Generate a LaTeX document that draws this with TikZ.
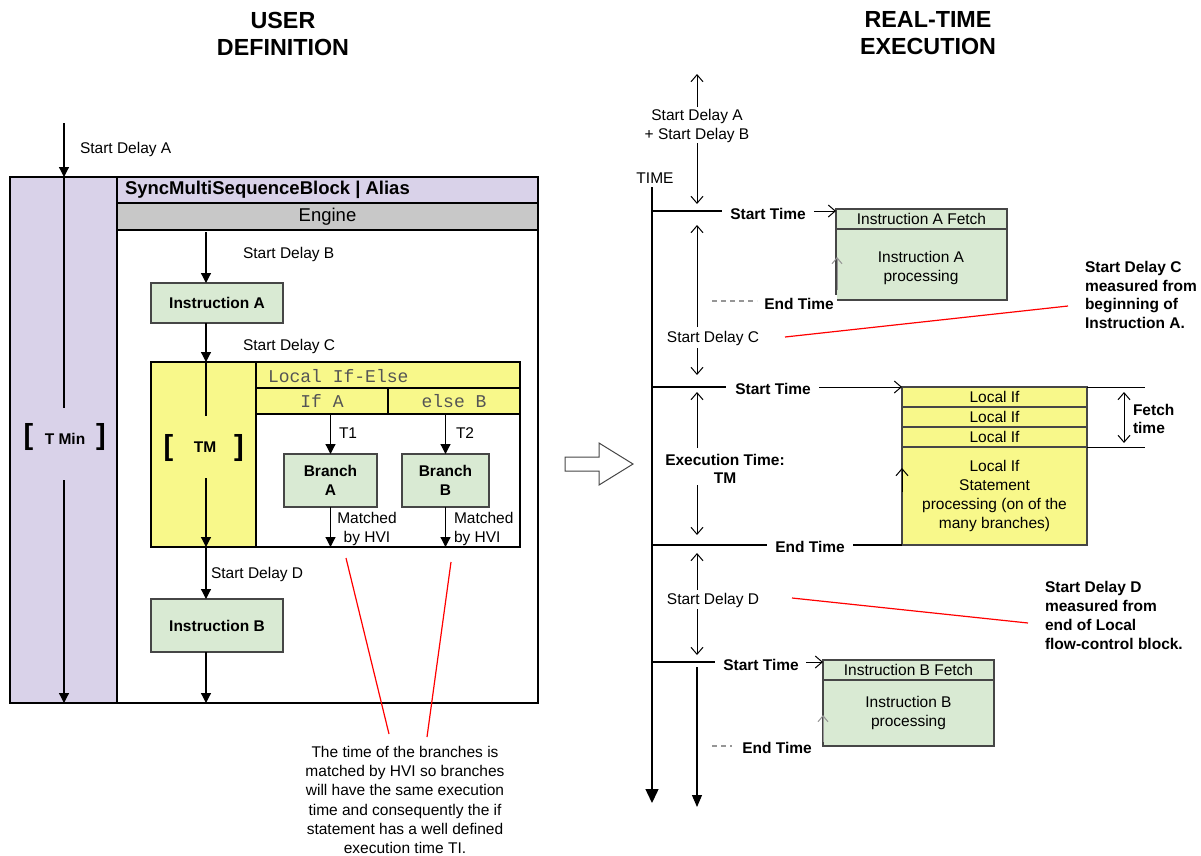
\documentclass[tikz,border=0pt]{standalone}
\usepackage{fontspec}
\setmainfont{Liberation Sans}
\newfontfamily\monofnt{Liberation Mono}
\usetikzlibrary{arrows.meta}
\definecolor{purp}{RGB}{217,210,233}
\definecolor{engc}{RGB}{200,200,200}
\definecolor{grn}{RGB}{217,234,211}
\definecolor{yel}{RGB}{248,248,138}
\definecolor{edge}{RGB}{70,70,70}
\definecolor{monoc}{RGB}{85,85,85}
\definecolor{dashc}{RGB}{150,150,150}
\begin{document}
\begin{tikzpicture}[x=1pt,y=-1pt,
  every node/.style={inner sep=0pt, outer sep=0pt},
  lbl/.style={font=\fontsize{15.5}{18.5}\selectfont, align=center},
  blbl/.style={font=\fontsize{15.5}{18.5}\selectfont\bfseries, align=center},
  ttl/.style={font=\fontsize{23.3}{27}\selectfont\bfseries, align=center},
  brk/.style={font=\fontsize{29}{30}\selectfont\bfseries},
  mfont/.style={font=\monofnt\fontsize{18}{20}\selectfont, text=monoc},
  boxg/.style={draw=edge, line width=1.3pt, fill=grn, anchor=north west},
  ycell/.style={draw=black, line width=1.3pt, fill=yel, anchor=north west},
  ln/.style={line width=1.2pt},
  farr/.style={line width=1.2pt, -{Triangle[length=10pt,width=10pt]}},
  axarr/.style={line width=1.4pt, -{Triangle[length=14pt,width=13pt]}},
  ax2arr/.style={line width=1.2pt, -{Triangle[length=12pt,width=10pt]}},
  oarr/.style={line width=1pt, -{Straight Barb[length=7pt,width=12pt]}},
  garr/.style={line width=1pt, dashc, -{Straight Barb[length=6pt,width=10pt]}},
  dsh/.style={line width=1.2pt, dashc, dash pattern=on 5pt off 4pt},
  redl/.style={line width=1.2pt, red}
]
\useasboundingbox (0,0) rectangle (1201,855);

% ================= LEFT: USER DEFINITION =================
\node[ttl] (ttl1) at (283,33.5) {USER\\DEFINITION};

\node[fill=purp, minimum width=107pt, minimum height=526pt, anchor=north west] (tcol) at (10,177) {};
\node[draw=black, fill=purp, line width=1.3pt, minimum width=421pt, minimum height=26pt, anchor=north west] (hdr) at (117,177) {};
\node[font=\fontsize{18.5}{20}\selectfont\bfseries, anchor=west] (hdrt) at (125,190) {SyncMultiSequenceBlock | Alias};
\node[draw=black, fill=engc, line width=1.3pt, minimum width=421pt, minimum height=27pt, anchor=north west, font=\fontsize{18.5}{20}\selectfont] (eng) at (117,203) {Engine};
\node[draw=black, line width=1.5pt, minimum width=528pt, minimum height=526pt, anchor=north west] (outer) at (10,177) {};
\draw[line width=1.3pt] (tcol.north east) -- (tcol.south east);

% T Min column
\coordinate (sdaS) at (64,123);
\coordinate (tminA) at (64,408);
\coordinate (tminB) at (64,480);
\node[lbl, anchor=west] (sda) at (80,149) {Start Delay A};
\draw[farr] (sdaS) -- (sdaS |- outer.north);
\draw[ln] (sdaS |- outer.north) -- (tminA);
\node[blbl] (tmin) at (65,439) {T Min};
\node[brk] (tminL) at (28.5,437) {[};
\node[brk] (tminR) at (101,437) {]};
\draw[farr] (tminB) -- (tminB |- outer.south);

% main flow
\coordinate (fx) at (206,232);
\node[boxg, minimum width=132pt, minimum height=40pt, font=\fontsize{15.5}{18.5}\selectfont\bfseries] (insA) at (151,283) {Instruction A};
\draw[farr] (fx) -- (fx |- insA.north);
\node[lbl, anchor=west] (sdb) at (243,254) {Start Delay B};
\node[lbl, anchor=west] (sdc) at (243,346) {Start Delay C};

% yellow block
\node[fill=yel, minimum width=105pt, minimum height=185pt, anchor=north west] (ycol) at (151,362) {};
\node[ycell, minimum width=264pt, minimum height=26pt] (lie) at (256,362) {};
\node[mfont, anchor=west] (liet) at (268,376) {Local If-Else};
\node[ycell, minimum width=132pt, minimum height=26pt, mfont] (ifa) at (256,388) {If A};
\node[ycell, minimum width=132pt, minimum height=26pt, mfont] (elb) at (388,388) {else B};
\node[draw=black, line width=1.3pt, minimum width=264pt, minimum height=133pt, anchor=north west] (wb) at (256,414) {};
\node[draw=black, line width=1.3pt, minimum width=369pt, minimum height=185pt, anchor=north west] (yblk) at (151,362) {};

\draw[farr] (fx |- insA.south) -- (fx |- yblk.north);
\coordinate (tmA) at (206,416);
\coordinate (tmB) at (206,478);
\draw[ln] (fx |- yblk.north) -- (tmA);
\node[blbl] (tm) at (205,447) {TM};
\node[brk] (tmL) at (168.5,448) {[};
\node[brk] (tmR) at (239,448) {]};
\draw[farr] (tmB) -- (fx |- yblk.south);

\node[boxg, minimum width=132pt, minimum height=53pt, font=\fontsize{15.5}{18.5}\selectfont\bfseries] (insB) at (151,599) {Instruction B};
\draw[farr] (fx |- yblk.south) -- (fx |- insB.north);
\node[lbl, anchor=west] (sdd) at (211,574) {Start Delay D};
\draw[farr] (fx |- insB.south) -- (fx |- outer.south);

% branches
\node[boxg, minimum width=93pt, minimum height=53pt, font=\fontsize{15.5}{18.5}\selectfont\bfseries, align=center] (brA) at (284,454) {Branch\\A};
\node[boxg, minimum width=87pt, minimum height=53pt, font=\fontsize{15.5}{18.5}\selectfont\bfseries, align=center] (brB) at (402,454) {Branch\\B};
\draw[farr] (brA.north |- ifa.south) -- (brA.north);
\draw[farr] (brB.north |- elb.south) -- (brB.north);
\node[lbl, anchor=west] (t1) at (339,433) {T1};
\node[lbl, anchor=west] (t2) at (456,433) {T2};
\draw[farr] (brA.south) -- (brA.south |- wb.south);
\draw[farr] (brB.south) -- (brB.south |- wb.south);
\node[lbl] (mA) at (367,529) {Matched\\by HVI};
\node[lbl, anchor=west, align=left] (mB) at (454,529) {Matched\\by HVI};

% annotation
\coordinate (rA1) at (346,558);
\coordinate (rA2) at (389,734);
\coordinate (rB1) at (451,562);
\coordinate (rB2) at (427,737);
\draw[redl] (rA1) -- (rA2);
\draw[redl] (rB1) -- (rB2);
\node[font=\fontsize{15.5}{19.3}\selectfont, align=center, anchor=north] (note) at (405,746)
 {The time of the branches is\\matched by HVI so branches\\will have the same execution\\time and consequently the if\\statement has a well defined\\execution time TI.};

% big hollow arrow
\draw[line width=1pt, draw=edge, fill=white] (565,457) -- (599,457) -- (599,443) -- (633,464) -- (599,485) -- (599,471) -- (565,471) -- cycle;

% ================= RIGHT: REAL-TIME EXECUTION =================
\node[ttl] (ttl2) at (928,33.5) {REAL-TIME\\EXECUTION};
\node[lbl] (time) at (655,178) {TIME};
\coordinate (axT) at (652,187);
\coordinate (axB) at (652,803);
\draw[axarr] (axT) -- (axB);

% top delay
\coordinate (v1a) at (697,107); \coordinate (v1b) at (697,74);
\coordinate (v2a) at (697,143); \coordinate (v2b) at (697,204);
\draw[oarr] (v1a) -- (v1b);
\node[lbl] (sdab) at (697,126) {Start Delay A\\+ Start Delay B};
\draw[oarr] (v2a) -- (v2b);

% row 1
\coordinate (r1a) at (652,211); \coordinate (r1b) at (722,211);
\draw[ln] (r1a) -- (r1b);
\node[blbl] (st1) at (768,214) {Start Time};
\node[boxg, minimum width=171pt, minimum height=20pt, font=\fontsize{15.5}{18.5}\selectfont] (iaf) at (836,209) {Instruction A Fetch};
\node[boxg, minimum width=171pt, minimum height=71pt] (iab) at (836,229) {};
\node[lbl] (iabt) at (921,268) {Instruction A\\processing};
\coordinate (s1a) at (814,211);
\draw[oarr] (s1a) -- (s1a -| iaf.west);
\coordinate (g1a) at (837,290); \coordinate (g1b) at (837,257);
\draw[garr] (g1a) -- (g1b);
\coordinate (d1a) at (712,301); \coordinate (d1b) at (757,301);
\draw[dsh] (d1a) -- (d1b);
\node[blbl, fill=white, inner sep=3pt] (et1) at (799,304) {End Time};

\coordinate (v3a) at (697,327); \coordinate (v3b) at (697,225);
\draw[oarr] (v3a) -- (v3b);
\node[lbl] (sdc2) at (713,338) {Start Delay C};
\coordinate (v4a) at (697,348); \coordinate (v4b) at (697,375);
\draw[oarr] (v4a) -- (v4b);
\coordinate (rc1) at (785,337); \coordinate (rc2) at (1068,306);
\draw[redl] (rc1) -- (rc2);
\node[blbl, anchor=west, align=left, font=\fontsize{15.5}{18.7}\selectfont\bfseries] (nc) at (1085,295) {Start Delay C\\measured from\\beginning of\\Instruction A.};

% row 2 with local if block
\coordinate (r2a) at (652,387); \coordinate (r2b) at (726,387);
\draw[ln] (r2a) -- (r2b);
\node[blbl] (st2) at (773,389) {Start Time};
\node[ycell, draw=edge, minimum width=185pt, minimum height=20pt, font=\fontsize{15.5}{18.5}\selectfont] (li1) at (902,387) {Local If};
\node[ycell, draw=edge, minimum width=185pt, minimum height=20pt, font=\fontsize{15.5}{18.5}\selectfont] (li2) at (902,407) {Local If};
\node[ycell, draw=edge, minimum width=185pt, minimum height=20pt, font=\fontsize{15.5}{18.5}\selectfont] (li3) at (902,427) {Local If};
\node[ycell, draw=edge, minimum width=185pt, minimum height=98pt, font=\fontsize{15.5}{19}\selectfont, align=center] (lis) at (902,447) {Local If\\Statement\\processing (on of the\\many branches)};
\coordinate (s2a) at (819,387);
\draw[oarr] (s2a) -- (s2a -| li1.west);
\coordinate (fr1) at (1145,387); \coordinate (fr2) at (1145,447);
\draw[line width=1pt] (li1.north east) -- (fr1);
\draw[line width=1pt] (li3.south east) -- (fr2);
\coordinate (fa) at (1124,392); \coordinate (fb) at (1124,443);
\draw[line width=1pt, {Straight Barb[length=7pt,width=12pt]}-{Straight Barb[length=7pt,width=12pt]}] (fa) -- (fb);
\node[blbl, anchor=west, align=left] (ft) at (1133,419) {Fetch\\time};
\coordinate (g2a) at (902,492); \coordinate (g2b) at (902,468);
\draw[oarr] (g2a) -- (g2b);

\coordinate (v5a) at (697,448); \coordinate (v5b) at (697,392);
\draw[oarr] (v5a) -- (v5b);
\node[blbl] (ex) at (725,469) {Execution Time:\\TM};
\coordinate (v6a) at (697,485); \coordinate (v6b) at (697,535);
\draw[oarr] (v6a) -- (v6b);

% end time row
\coordinate (r3a) at (652,545); \coordinate (r3b) at (767,545); \coordinate (r3c) at (853,545);
\draw[ln] (r3a) -- (r3b);
\node[blbl] (et2) at (810,547) {End Time};
\draw[ln] (r3c) -- (lis.south west);

% start delay D
\coordinate (v7a) at (697,590); \coordinate (v7b) at (697,553);
\draw[oarr] (v7a) -- (v7b);
\node[lbl] (sdd2) at (713,600) {Start Delay D};
\coordinate (v8a) at (697,609); \coordinate (v8b) at (697,655);
\draw[oarr] (v8a) -- (v8b);
\coordinate (rd1) at (792,598); \coordinate (rd2) at (1028,623);
\draw[redl] (rd1) -- (rd2);
\node[anchor=west, align=left, font=\fontsize{15.5}{19}\selectfont\bfseries] (nd) at (1045,615) {Start Delay D\\measured from\\end of Local\\flow-control block.};

% row 3
\coordinate (r4a) at (652,662); \coordinate (r4b) at (715,662);
\draw[ln] (r4a) -- (r4b);
\node[blbl] (st3) at (761,665) {Start Time};
\node[boxg, minimum width=171pt, minimum height=20pt, font=\fontsize{15.5}{18.5}\selectfont] (ibf) at (823,660) {Instruction B Fetch};
\node[boxg, minimum width=171pt, minimum height=66pt, font=\fontsize{15.5}{18.5}\selectfont, align=center] (ibb) at (823,680) {Instruction B\\processing};
\coordinate (s3a) at (806,662);
\draw[oarr] (s3a) -- (s3a -| ibf.west);
\coordinate (g3a) at (823,742); \coordinate (g3b) at (823,715);
\draw[garr] (g3a) -- (g3b);
\coordinate (d3a) at (712,746); \coordinate (d3b) at (732,746);
\draw[dsh] (d3a) -- (d3b);
\node[blbl, fill=white, inner sep=3pt] (et3) at (777,748) {End Time};

\coordinate (v9a) at (697,667); \coordinate (v9b) at (697,807);
\draw[ax2arr] (v9a) -- (v9b);
\end{tikzpicture}
\end{document}
